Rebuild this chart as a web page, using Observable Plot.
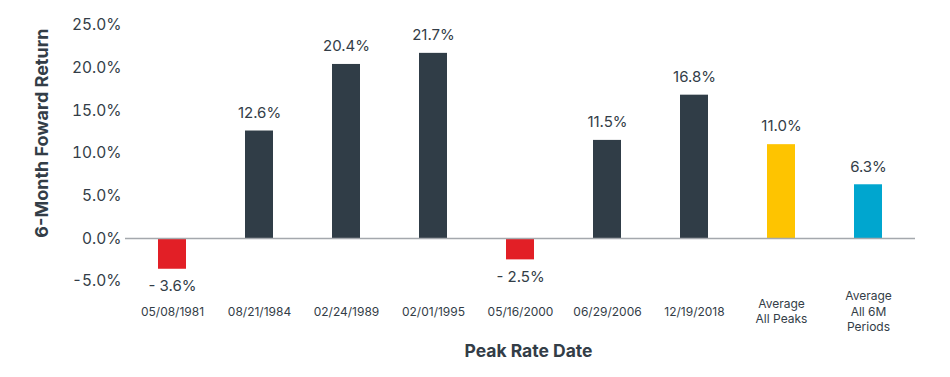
<!DOCTYPE html>
<html>
<head>
<meta charset="utf-8">
<script src="https://cdn.jsdelivr.net/npm/d3@7"></script>
<script src="https://cdn.jsdelivr.net/npm/@observablehq/plot@0.6"></script>
<style>
  html, body { margin: 0; padding: 0; background: #fff; }
  #chart svg { display: block; }
</style>
</head>
<body>
<div id="chart"></div>
<script>
const categories = ["05/08/1981", "08/21/1984", "02/24/1989", "02/01/1995", "05/16/2000", "06/29/2006", "12/19/2018", "Average\nAll Peaks", "Average\nAll 6M\nPeriods"];
const values = [-3.6, 12.6, 20.4, 21.7, -2.5, 11.5, 16.8, 11.0, 6.3];
const barColors = ["#e21f26", "#303d47", "#303d47", "#303d47", "#e21f26", "#303d47", "#303d47", "#fec400", "#00a6cf"];
const yTicks = [-5, 0, 5, 10, 15, 20, 25];

const data = categories.map((c, i) => ({category: c, value: values[i], color: barColors[i]}));
const fmtLabel = v => v < 0 ? "- " + Math.abs(v).toFixed(1) + "%" : v.toFixed(1) + "%";
const textColor = "#333d47";
const font = "Inter, 'Open Sans', sans-serif";

const chart = Plot.plot({
  width: 950,
  height: 377,
  marginLeft: 125,
  marginRight: 35,
  marginTop: 24.7,
  marginBottom: 96.3,
  style: {fontFamily: font, color: textColor, background: "#fff"},
  x: {domain: categories, paddingInner: 0.68, paddingOuter: 0.34, axis: null},
  y: {domain: [-5, 25], axis: null},
  marks: [
    Plot.barY(data, {x: "category", y: "value", fill: "color"}),
    Plot.ruleY([0], {stroke: "#a4a8ad", strokeWidth: 1.5}),
    Plot.axisY({ticks: yTicks, tickSize: 0, tickPadding: 4, tickFormat: d => d.toFixed(1) + "%", fontSize: 15.5, fill: textColor, label: null}),
    Plot.text(data.filter(d => d.value >= 0), {x: "category", y: "value", text: d => fmtLabel(d.value), dy: -18, fontSize: 15, fill: textColor, lineAnchor: "middle"}),
    Plot.text(data.filter(d => d.value < 0), {x: "category", y: "value", text: d => fmtLabel(d.value), dy: 17, fontSize: 15, fill: textColor, lineAnchor: "middle"}),
    Plot.text(data, {x: "category", text: "category", frameAnchor: "bottom", dy: 29.5, lineAnchor: "middle", lineHeight: 1.3, fontSize: 12, fill: textColor}),
    Plot.text(["6-Month Foward Return"], {frameAnchor: "left", textAnchor: "middle", dx: -83, dy: -20, rotate: -90, fontSize: 18, fontWeight: "bold", fill: textColor}),
    Plot.text(["Peak Rate Date"], {frameAnchor: "bottom", dx: 8, dy: 76, fontSize: 17.5, fontWeight: "bold", fill: textColor})
  ]
});
document.getElementById("chart").appendChild(chart);
</script>
</body>
</html>
